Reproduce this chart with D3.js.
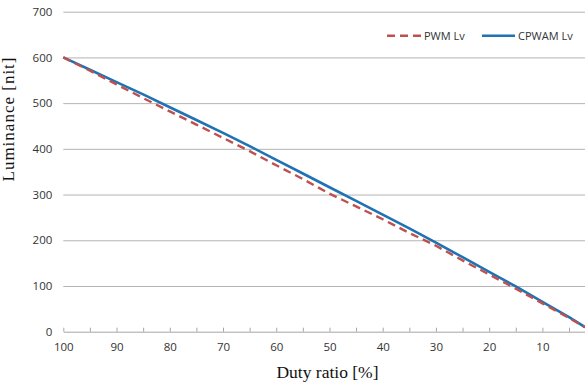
<html>
<head>
<script src="https://cdnjs.cloudflare.com/ajax/libs/d3/7.8.5/d3.min.js"></script>
<style>
body { margin: 0; background: #fff; }
.tick text { font-family: "Open Sans", sans-serif; font-size: 11.5px; fill: #333; }
</style>
</head>
<body>
<svg id="chart" width="585" height="385"></svg>
<script>
// duty ratio [%]
var duty = [100, 95, 90, 85, 80, 75, 70, 65, 60, 55, 50, 45, 40, 35, 30, 25, 20, 15, 10, 5, 2];
var pwm = [600, 571, 541, 511, 482, 453, 424, 395, 364, 334, 302, 274, 246, 216, 188, 156, 125, 94, 62, 30, 10];
var cpwam = [600, 573, 546, 519, 491, 463, 435, 406, 376, 346, 316, 286, 256, 226, 195, 163, 131, 99, 65, 32, 10];
var xLabels = [100, 90, 80, 70, 60, 50, 40, 30, 20, 10];
var xMinor = [100, 95, 90, 85, 80, 75, 70, 65, 60, 55, 50, 45, 40, 35, 30, 25, 20, 15, 10, 5];
var yTicks = [0, 100, 200, 300, 400, 500, 600, 700];

var svg = d3.select('#chart');
var mLeft = 63.3, mRight = 585, mTop = 11.7, mBottom = 331.7;

var x = d3.scaleLinear().domain([100, 2]).range([mLeft, mRight]);
var y = d3.scaleLinear().domain([0, 700]).range([mBottom, mTop]);

// gridlines + y labels
var yAxis = d3.axisLeft(y).tickValues(yTicks).tickSize(-(mRight - mLeft)).tickPadding(11);
var gy = svg.append('g').attr('transform', 'translate(' + mLeft + ',0)').call(yAxis);
gy.select('.domain').remove();
gy.selectAll('.tick line').attr('stroke', '#b4b4b4').attr('stroke-width', 1);
gy.selectAll('.tick').filter(function (d) { return d === 0; }).select('line').remove();

// x axis line with inward ticks
var minorAxis = d3.axisBottom(x).tickValues(xMinor).tickSize(-4).tickSizeOuter(0).tickFormat('');
var gm = svg.append('g').attr('transform', 'translate(0,' + mBottom + ')').call(minorAxis);
gm.select('.domain').attr('stroke', '#a6a6a6');
gm.selectAll('.tick line').attr('stroke', '#a6a6a6');

var labelAxis = d3.axisBottom(x).tickValues(xLabels).tickSize(0).tickPadding(11);
var gl = svg.append('g').attr('transform', 'translate(0,' + mBottom + ')').call(labelAxis);
gl.select('.domain').remove();

// series
var line = function (vals) {
    return d3.line()
        .x(function (d, i) { return x(duty[i]); })
        .y(function (d) { return y(d); })(vals);
};

svg.append('path')
    .attr('d', line(cpwam))
    .attr('fill', 'none')
    .attr('stroke', '#1f72b3')
    .attr('stroke-width', 2.6);

svg.append('path')
    .attr('d', line(pwm))
    .attr('fill', 'none')
    .attr('stroke', '#c0504d')
    .attr('stroke-width', 2.4)
    .attr('stroke-dasharray', '8,5');

// legend
svg.append('line').attr('x1', 387).attr('x2', 422).attr('y1', 35.7).attr('y2', 35.7)
    .attr('stroke', '#c0504d').attr('stroke-width', 2.4).attr('stroke-dasharray', '8,5');
svg.append('text').attr('x', 424).attr('y', 39.7).text('PWM Lv')
    .style('font-family', '"Open Sans", sans-serif').style('font-size', '11px').style('fill', '#333');
svg.append('line').attr('x1', 482).attr('x2', 515).attr('y1', 35.7).attr('y2', 35.7)
    .attr('stroke', '#1f72b3').attr('stroke-width', 2.6);
svg.append('text').attr('x', 518).attr('y', 39.7).text('CPWAM Lv')
    .style('font-family', '"Open Sans", sans-serif').style('font-size', '11px').style('fill', '#333');

// axis titles
svg.append('text')
    .attr('transform', 'translate(14,119) rotate(-90)')
    .attr('text-anchor', 'middle')
    .style('font-family', '"Liberation Serif", serif')
    .style('font-size', '17px')
    .style('letter-spacing', '1px')
    .style('fill', '#111')
    .text('Luminance [nit]');

svg.append('text')
    .attr('x', 327.5)
    .attr('y', 378)
    .attr('text-anchor', 'middle')
    .style('font-family', '"Liberation Serif", serif')
    .style('font-size', '17.5px')
    .style('fill', '#111')
    .text('Duty ratio [%]');
</script>
</body>
</html>
